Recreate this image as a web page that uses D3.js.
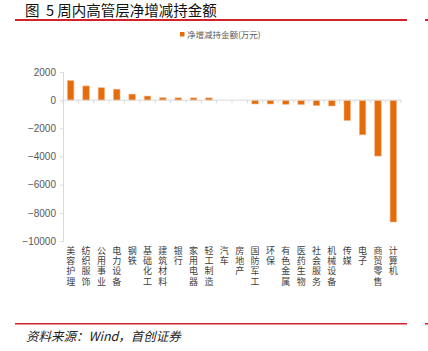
<!DOCTYPE html>
<html>
<head>
<meta charset="utf-8">
<script src="https://cdn.jsdelivr.net/npm/d3@7/dist/d3.min.js"></script>
<style>
  body { margin: 0; background: #fff; }
  svg { display: block; }
</style>
</head>
<body>
<div id="chart"></div>
<script>
// 行业及净增减持金额（万元）
var categories = ["美容护理", "纺织服饰", "公用事业", "电力设备", "钢铁", "基础化工", "建筑材料", "银行",
  "家用电器", "轻工制造", "汽车", "房地产", "国防军工", "环保", "有色金属", "医药生物", "社会服务",
  "机械设备", "传媒", "电子", "商贸零售", "计算机"];
var values = [1390, 1010, 880, 780, 430, 290, 170, 160, 160, 160, 0, 0, -270, -270, -290, -310, -380,
  -410, -1440, -2460, -3970, -8650];
var yTicks = [2000, 0, -2000, -4000, -6000, -8000, -10000];
var titleText = "图  5 周内高管层净增减持金额";
var legendText = "净增减持金额(万元)";
var sourceText = "资料来源：Wind，首创证券";

var W = 428, H = 351;
var margin = { top: 72, right: 27, bottom: 110, left: 63 };
var barColor = "#E46C0A";
var red = "#D2232A";

var svg = d3.select("#chart").append("svg").attr("width", W).attr("height", H);

// title + rules
svg.append("text").attr("x", 25).attr("y", 16)
  .style("font-family", "'Noto Sans CJK SC', sans-serif").style("font-size", "14.5px")
  .attr("fill", "#111").attr("xml:space", "preserve").text(titleText);
svg.append("rect").attr("x", 15).attr("y", 19).attr("width", 392).attr("height", 2).attr("fill", red);
svg.append("rect").attr("x", 425).attr("y", 19).attr("width", 3).attr("height", 2).attr("fill", red);
svg.append("rect").attr("x", 15).attr("y", 323).attr("width", 392).attr("height", 1.5).attr("fill", red);
svg.append("rect").attr("x", 425).attr("y", 323).attr("width", 3).attr("height", 1.5).attr("fill", red);

svg.append("text").attr("x", 26).attr("y", 341)
  .style("font-family", "'Noto Sans CJK SC', sans-serif").style("font-size", "12.5px")
  .style("font-style", "italic").attr("fill", "#222").text(sourceText);

// legend
svg.append("rect").attr("x", 180).attr("y", 32).attr("width", 4.5).attr("height", 4.5).attr("fill", barColor);
svg.append("text").attr("x", 187).attr("y", 37.5)
  .style("font-family", "'Noto Sans CJK SC', sans-serif").style("font-size", "8.5px")
  .attr("fill", "#595959").text(legendText);

var x = d3.scaleBand().domain(categories).range([margin.left, W - margin.right]).paddingInner(0.58).paddingOuter(0.29);
var y = d3.scaleLinear().domain([-10000, 2000]).range([H - margin.bottom, margin.top]);

// y axis
var yAxis = d3.axisLeft(y).tickValues(yTicks).tickSize(3).tickPadding(4)
  .tickFormat(function (d) { return d < 0 ? "\u2212" + Math.abs(d) : d; });
var gy = svg.append("g").attr("transform", "translate(" + margin.left + ",0)").call(yAxis);
gy.select(".domain").attr("stroke", "#d9d9d9");
gy.selectAll(".tick line").attr("stroke", "#d9d9d9");
gy.selectAll(".tick text").attr("fill", "#595959")
  .style("font-family", "'Liberation Sans', Arial, sans-serif").style("font-size", "10px");

// bars
svg.append("g").selectAll("rect").data(categories).enter().append("rect")
  .attr("x", function (d) { return x(d); })
  .attr("width", x.bandwidth())
  .attr("y", function (d, i) { return y(Math.max(0, values[i])); })
  .attr("height", function (d, i) { return Math.abs(y(values[i]) - y(0)); })
  .attr("fill", barColor)
  .attr("stroke", "#F4B183").attr("stroke-width", 0.6);

// zero axis with ticks at category boundaries
var bounds = d3.range(categories.length + 1).map(function (i) { return margin.left + i * (W - margin.right - margin.left) / categories.length; });
var gx = svg.append("g");
gx.append("line").attr("x1", margin.left).attr("x2", W - margin.right)
  .attr("y1", y(0)).attr("y2", y(0)).attr("stroke", "#d9d9d9").attr("stroke-width", 1);
gx.selectAll("line.tk").data(bounds).enter().append("line").attr("class", "tk")
  .attr("x1", function (d) { return d; }).attr("x2", function (d) { return d; })
  .attr("y1", y(0)).attr("y2", y(0) + 3).attr("stroke", "#d9d9d9");

// vertical category labels (one text each, set vertically)
svg.append("g").selectAll("text").data(categories).enter().append("text")
  .attr("x", function (d) { return x(d) + x.bandwidth() / 2; })
  .attr("y", 246)
  .style("writing-mode", "vertical-rl")
  .style("letter-spacing", "1.2px")
  .style("font-family", "'Noto Sans CJK SC', sans-serif").style("font-size", "9px")
  .attr("fill", "#404040")
  .text(function (d) { return d; });
</script>
</body>
</html>
